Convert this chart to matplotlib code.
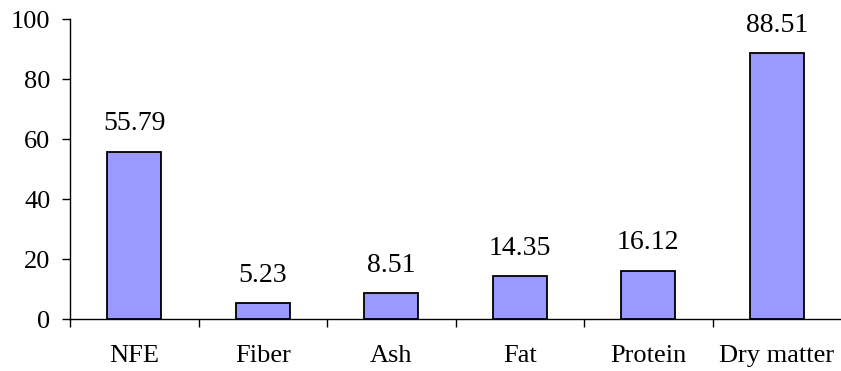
import matplotlib
matplotlib.use("Agg")
import matplotlib.pyplot as plt
import numpy as np

categories = ["NFE", "Fiber", "Ash", "Fat", "Protein", "Dry matter"]
values = [55.79, 5.23, 8.51, 14.35, 16.12, 88.51]
value_labels = ["55.79", "5.23", "8.51", "14.35", "16.12", "88.51"]
yticks = [0, 20, 40, 60, 80, 100]

plt.rcParams['font.family'] = ['Liberation Serif', 'DejaVu Serif']

fig = plt.figure(figsize=(8.41, 3.71), dpi=100)
ax = fig.add_axes([70/841, 52/371, 1 - 70/841, 300/371])

x = np.arange(len(categories))
ax.bar(x, values, width=0.42, color="#9999FF", edgecolor="black", linewidth=1.3)

for xi, v, lab in zip(x, values, value_labels):
    ax.annotate(lab, (xi, v), xytext=(0, 11), textcoords="offset points",
                ha="center", va="bottom", fontsize=20)

ax.set_xlim(-0.5, 5.5)
ax.set_ylim(0, 100)
ax.set_yticks(yticks)
ax.set_yticklabels([str(t) for t in yticks], fontsize=19)
ax.set_xticks(x)
ax.set_xticklabels(categories, fontsize=19)
ax.set_xticks(np.arange(-0.5, 5.0, 1.0), minor=True)
ax.tick_params(axis="x", which="major", length=0, pad=19)
ax.tick_params(axis="x", which="minor", length=6, width=1.0, direction="out")
ax.tick_params(axis="y", which="major", length=6, width=1.0, direction="out", pad=8)

for s in ["top", "right"]:
    ax.spines[s].set_visible(False)
ax.spines["left"].set_linewidth(1.0)
ax.spines["bottom"].set_linewidth(1.0)

fig.savefig("out.png", dpi=100)
